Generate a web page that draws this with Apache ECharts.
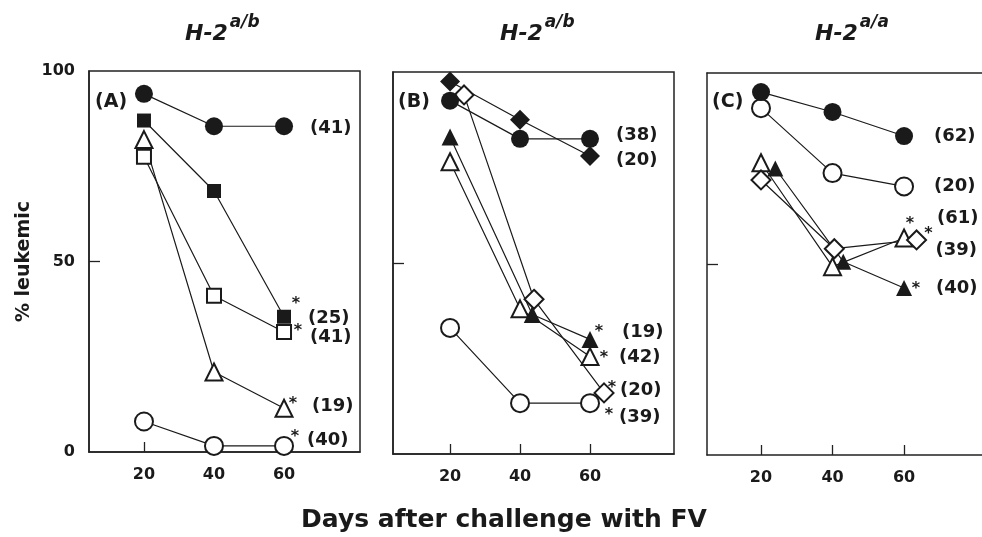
<!DOCTYPE html>
<html>
<head>
<meta charset="utf-8">
<script src="https://cdn.jsdelivr.net/npm/echarts@6/dist/echarts.min.js"></script>
<style>
  html, body { margin: 0; padding: 0; background: #fff; }
  #chart { width: 982px; height: 537px; }
</style>
</head>
<body>
<div id="chart"></div>
<script>
// x values (days after challenge)
const days = [20, 40, 60]
const xTicks = [20, 40, 60]
const yLabels = [0, 50, 100]

// panel A  (H-2 a/b)
const aFilledCircle = [94, 85.5, 85.5]
const aFilledSquare = [87, 68.5, 35.5]
const aOpenSquare = [77.5, 41, 31.5]
const aOpenTriangle = [82, 21, 11.5]
const aOpenCircle = [8, 1.6, 1.6]

// panel B  (H-2 a/b)
const bFilledCircle = [92.5, 82.5, 82.5]
const bFilledDiamond = [97.5, 87.5, 78]
const bOpenDiamondDays = [24, 44, 64]
const bOpenDiamond = [94, 40.5, 16]
const bFilledTriangleDays = [20, 43.5, 60]
const bFilledTriangle = [83, 36.5, 30]
const bOpenTriangle = [76.5, 38, 25.5]
const bOpenCircle = [33, 13.3, 13.3]

// panel C  (H-2 a/a)
const cFilledCircle = [95, 89.8, 83.5]
const cOpenCircle = [90.8, 73.8, 70.3]
const cOpenTriangle = [76.5, 49.3, 56.8]
const cOpenDiamondDays = [20, 40.5, 63.5]
const cOpenDiamond = [72, 54, 56.3]
const cFilledTriangleDays = [24, 43, 60]
const cFilledTriangle = [75, 50.6, 43.7]

const FONT = 'DejaVu Sans'
const INK = '#1a1a1a'
const FRAME = { color: '#222', width: 1.5 }

// grid rectangles and x ranges; panel C is cut by the right edge (no right frame)
const panels = [
  { left: 89, top: 71, width: 271, height: 381, min: 4.3, max: 81.7, box: true },
  { left: 393, top: 72, width: 281, height: 382, min: 3.7, max: 84, box: true },
  { left: 707, top: 73, width: 275, height: 382, min: 4.9, max: 81.8, box: false }
]

function mk(grid, xs, ys, shape, filled, size, count, nOff, sOff) {
  const last = [xs[xs.length - 1], ys[ys.length - 1]]
  const marks = [{
    coord: last,
    symbolSize: 0,
    label: {
      show: true, position: 'inside', formatter: count, offset: nOff,
      align: 'left', verticalAlign: 'middle',
      fontFamily: FONT, fontWeight: 'bold', fontSize: 18, color: INK
    }
  }]
  if (sOff) {
    marks.push({
      coord: last,
      symbolSize: 0,
      label: {
        show: true, position: 'inside', formatter: '*', offset: [sOff[0], sOff[1] + 4],
        align: 'center', verticalAlign: 'middle',
        fontFamily: FONT, fontWeight: 'bold', fontSize: 16, color: INK
      }
    })
  }
  return {
    type: 'line',
    xAxisIndex: grid,
    yAxisIndex: grid,
    data: xs.map((x, i) => [x, ys[i]]),
    symbol: shape,
    symbolSize: size,
    showAllSymbol: true,
    lineStyle: { color: INK, width: 1.2 },
    itemStyle: filled
      ? { color: INK, borderWidth: 0 }
      : { color: '#fff', borderColor: INK, borderWidth: 2 },
    emphasis: { disabled: true },
    markPoint: { silent: true, symbol: 'circle', data: marks, itemStyle: { color: 'transparent' } }
  }
}

const series = [
  // A
  mk(0, days, aOpenCircle, 'circle', false, 18, '(40)', [23, -6], [11, -13]),
  mk(0, days, aOpenTriangle, 'triangle', false, 17, '(19)', [28, -2], [9, -8]),
  mk(0, days, aOpenSquare, 'rect', false, 14, '(41)', [26, 5], [14, -5]),
  mk(0, days, aFilledSquare, 'rect', true, 14, '(25)', [24, 2], [12, -17]),
  mk(0, days, aFilledCircle, 'circle', true, 18, '(41)', [26, 2]),
  // B
  mk(1, days, bOpenCircle, 'circle', false, 18, '(39)', [29, 14], [19, 8]),
  mk(1, days, bOpenTriangle, 'triangle', false, 17, '(42)', [29, 1], [14, -3]),
  mk(1, bFilledTriangleDays, bFilledTriangle, 'triangle', true, 17, '(19)', [32, -7], [9, -12]),
  mk(1, bOpenDiamondDays, bOpenDiamond, 'diamond', false, 19, '(20)', [16, -3], [8, -9]),
  mk(1, days, bFilledCircle, 'circle', true, 18, '(38)', [26, -4]),
  mk(1, days, bFilledDiamond, 'diamond', true, 20, '(20)', [26, 4]),
  // C
  mk(2, cFilledTriangleDays, cFilledTriangle, 'triangle', true, 16, '(40)', [32, 0], [12, -3]),
  mk(2, days, cOpenTriangle, 'triangle', false, 17, '(61)', [33, -20], [6, -18]),
  mk(2, cOpenDiamondDays, cOpenDiamond, 'diamond', false, 19, '(39)', [19, 10], [12, -10]),
  mk(2, days, cOpenCircle, 'circle', false, 18, '(20)', [30, 0]),
  mk(2, days, cFilledCircle, 'circle', true, 18, '(62)', [30, 0])
]

const titleStyle = {
  rich: {
    h: { fontFamily: FONT, fontStyle: 'italic', fontWeight: 'bold', fontSize: 22, color: INK, lineHeight: 40 },
    s: { fontFamily: FONT, fontStyle: 'italic', fontWeight: 'bold', fontSize: 17, color: INK, lineHeight: 12, verticalAlign: 'top', padding: [0, 0, 0, 2] }
  }
}
const letterStyle = { fontFamily: FONT, fontWeight: 'bold', fontSize: 19, color: INK, lineHeight: 22 }

// bottom axes with ticks + labels, and a bare top axis that closes panel C's frame
const xAxes = panels.map((p, i) => ({
  type: 'value', gridIndex: i, min: p.min, max: p.max,
  axisLine: { show: true, lineStyle: FRAME },
  splitLine: { show: false },
  axisTick: { show: true, inside: true, length: 10, customValues: xTicks, lineStyle: { color: '#222', width: 1.3 } },
  axisLabel: {
    show: true, customValues: xTicks, margin: 15,
    fontFamily: FONT, fontWeight: 'bold', fontSize: 16, color: INK
  }
}))
xAxes.push({
  type: 'value', gridIndex: 2, position: 'top', min: panels[2].min, max: panels[2].max,
  axisLine: { show: true, lineStyle: FRAME },
  axisTick: { show: false }, axisLabel: { show: false }, splitLine: { show: false }
})

const chart = echarts.init(document.getElementById('chart'), null, { renderer: 'canvas' })
chart.setOption({
  animation: false,
  backgroundColor: '#fff',
  title: [
    { text: '{h|H-2}{s|a/b}', left: 185, top: 14, padding: 0, textStyle: titleStyle },
    { text: '{h|H-2}{s|a/b}', left: 500, top: 14, padding: 0, textStyle: titleStyle },
    { text: '{h|H-2}{s|a/a}', left: 815, top: 14, padding: 0, textStyle: titleStyle },
    { text: '(A)', left: 95, top: 91, padding: 0, textStyle: letterStyle },
    { text: '(B)', left: 398, top: 91, padding: 0, textStyle: letterStyle },
    { text: '(C)', left: 712, top: 91, padding: 0, textStyle: letterStyle },
    {
      text: 'Days after challenge with FV', left: 504, top: 508, padding: 0, textAlign: 'center',
      textStyle: { fontFamily: FONT, fontWeight: 'bold', fontSize: 25, color: INK }
    }
  ],
  grid: panels.map(p => ({
    left: p.left, top: p.top, width: p.width, height: p.height,
    show: p.box, borderColor: '#222', borderWidth: 1.5, backgroundColor: 'transparent'
  })),
  xAxis: xAxes,
  yAxis: panels.map((p, i) => ({
    type: 'value', gridIndex: i, min: 0, max: 100,
    name: i === 0 ? '% leukemic' : '',
    nameLocation: 'middle', nameRotate: 90, nameGap: 55,
    nameTextStyle: { fontFamily: FONT, fontWeight: 'bold', fontSize: 19, color: INK },
    axisLine: { show: true, lineStyle: FRAME },
    splitLine: { show: false },
    axisTick: { show: true, inside: true, length: 11, customValues: [50], lineStyle: { color: '#222', width: 1.3 } },
    axisLabel: {
      show: i === 0, customValues: yLabels, margin: 14, padding: [0, 0, 13, 0],
      fontFamily: FONT, fontWeight: 'bold', fontSize: 16, color: INK
    }
  })),
  series
})
</script>
</body>
</html>
